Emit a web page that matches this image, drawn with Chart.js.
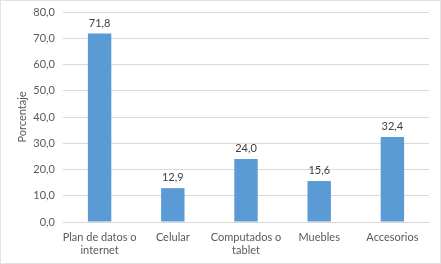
<!DOCTYPE html>
<html>
<head>
<meta charset="utf-8">
<script src="https://cdn.jsdelivr.net/npm/chart.js@4"></script>
<style>
  html, body { margin: 0; padding: 0; background: #fff; }
  #wrap { width: 439px; height: 262px; border: 1px solid #e3e3e3; position: relative; }
</style>
</head>
<body>
<div id="wrap"><canvas id="chart" width="439" height="262"></canvas></div>
<script>
const categories = [['Plan de datos o', 'internet'], 'Celular', ['Computados o', 'tablet'], 'Muebles', 'Accesorios'];
const values = [71.8, 12.9, 24.0, 15.6, 32.4];
const yTicks = [0, 10, 20, 30, 40, 50, 60, 70, 80];

const fmt = v => v.toFixed(1).replace('.', ',');
const FONT = 'Lato';

// Draw value labels above each bar
const valueLabels = {
    id: 'valueLabels',
    afterDatasetsDraw(chart) {
        const ctx = chart.ctx;
        const meta = chart.getDatasetMeta(0);
        ctx.save();
        ctx.fillStyle = '#404040';
        ctx.font = '11px ' + FONT;
        ctx.textAlign = 'center';
        ctx.textBaseline = 'bottom';
        meta.data.forEach((bar, i) => {
            ctx.fillText(fmt(values[i]), bar.x, bar.y - 5);
        });
        ctx.restore();
    }
};

new Chart(document.getElementById('chart'), {
    type: 'bar',
    data: {
        labels: categories,
        datasets: [{
            data: values,
            backgroundColor: '#5b9bd5',
            categoryPercentage: 1,
            barPercentage: 0.32
        }]
    },
    options: {
        responsive: false,
        animation: false,
        layout: { padding: { top: 11, right: 11, bottom: 0, left: 15 } },
        plugins: {
            legend: { display: false },
            tooltip: { enabled: false }
        },
        scales: {
            x: {
                afterFit(scale) { scale.height = 41; },
                grid: { display: false, drawTicks: false },
                border: { color: '#d9d9d9' },
                ticks: {
                    color: '#595959',
                    font: { family: FONT, size: 11 },
                    maxRotation: 0,
                    autoSkip: false,
                    padding: 9
                }
            },
            y: {
                min: 0,
                max: 80,
                afterFit(scale) {
                    scale.width = 47;
                    scale.paddingTop = 0;
                    scale.paddingBottom = 0;
                },
                afterBuildTicks(scale) { scale.ticks = yTicks.map(v => ({ value: v })); },
                grid: { color: '#d9d9d9', drawTicks: false },
                border: { display: false },
                ticks: {
                    color: '#595959',
                    font: { family: FONT, size: 11 },
                    padding: 8,
                    callback: v => fmt(v)
                },
                title: {
                    display: true,
                    text: 'Porcentaje',
                    color: '#595959',
                    font: { family: FONT, size: 11 },
                    padding: { top: 0, bottom: 5 }
                }
            }
        }
    },
    plugins: [valueLabels]
});
</script>
</body>
</html>
